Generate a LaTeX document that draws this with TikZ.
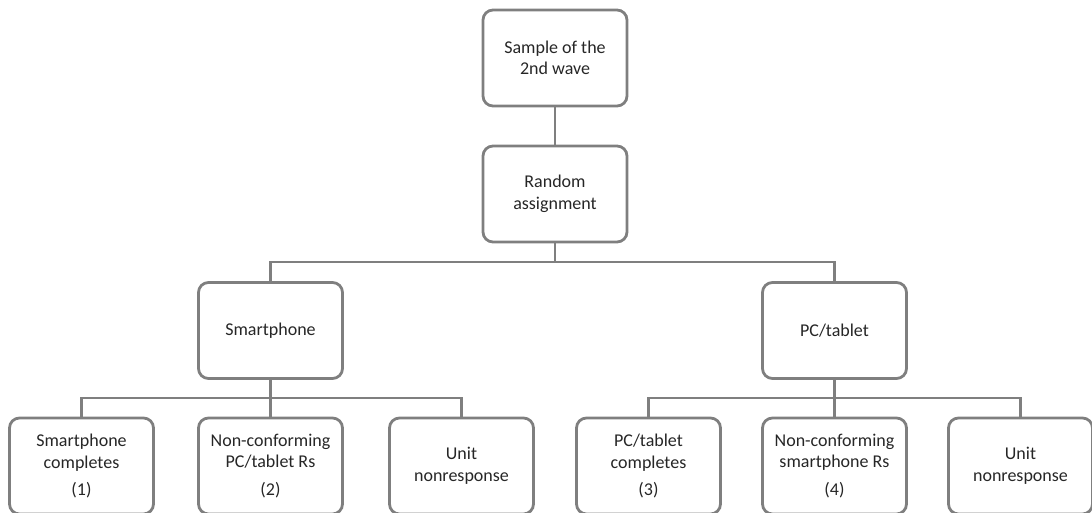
\documentclass[tikz,border=0pt]{standalone}
\usepackage{fontspec}
\setmainfont{Carlito}
\definecolor{linegray}{HTML}{7F7F7F}
\begin{document}
\begin{tikzpicture}[x=1pt,y=-1pt,
  box/.style={draw=linegray, line width=2.8pt, rounded corners=10pt,
    minimum width=144pt, minimum height=96pt, align=center, inner sep=2pt,
    font=\fontsize{18}{21.5}\selectfont, text=black!85},
  link/.style={draw=linegray, line width=2.8pt}]
  \useasboundingbox (0,0) rectangle (1092,513);
  % top of the tree
  \node[box] (sample) at (555,58) {Sample of the\\2nd wave};
  \node[box] (rand) at (555,194) {Random\\assignment};
  % the two arms
  \node[box] (smart) at (270.5,330.5) {Smartphone};
  \node[box] (pc) at (834.5,330.5) {PC/tablet};
  % outcomes of each arm
  \node[box] (c1) at (81.5,466) {Smartphone\\completes\\[6pt](1)};
  \node[box] (c2) at (270.5,466) {Non-conforming\\PC/tablet Rs\\[6pt](2)};
  \node[box] (c3) at (461.5,466) {Unit\\nonresponse};
  \node[box] (c4) at (648.5,466) {PC/tablet\\completes\\[6pt](3)};
  \node[box] (c5) at (834.5,466) {Non-conforming\\smartphone Rs\\[6pt](4)};
  \node[box] (c6) at (1020.5,466) {Unit\\nonresponse};
  % junction points of the branch bars
  \coordinate (j0) at (555,262);
  \coordinate (j1) at (270.5,398);
  \coordinate (j2) at (834.5,398);
  % connectors
  \draw[link] (sample.south) -- (rand.north);
  \draw[link] (rand.south) -- (j0);
  \draw[link] (smart.north) |- (j0) -| (pc.north);
  \draw[link] (smart.south) -- (c2.north);
  \draw[link] (c1.north) |- (j1) -| (c3.north);
  \draw[link] (pc.south) -- (c5.north);
  \draw[link] (c4.north) |- (j2) -| (c6.north);
\end{tikzpicture}
\end{document}
